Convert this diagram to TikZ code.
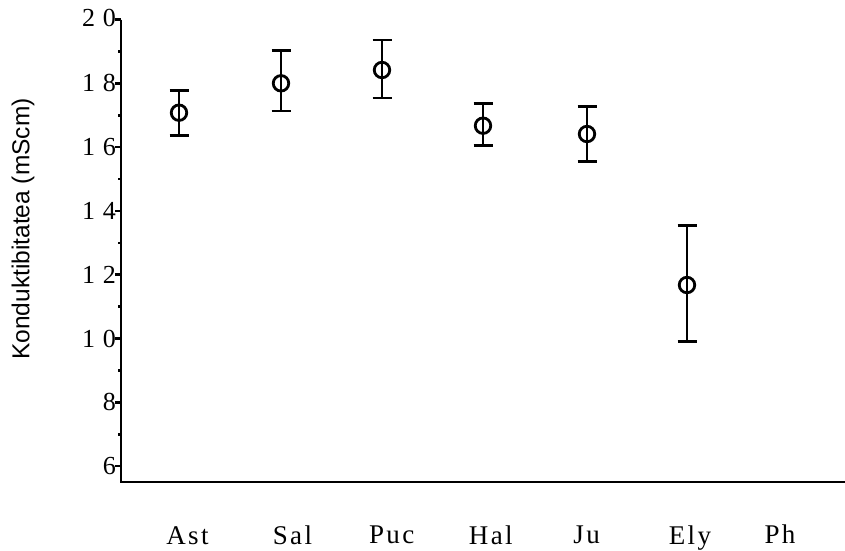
\documentclass[tikz,border=0pt]{standalone}
\usepackage{fontspec}
\setmainfont{Liberation Serif}
\newfontfamily\ticklblfont[LetterSpace=30]{Liberation Serif}
\newfontfamily\catfont[LetterSpace=9]{Liberation Serif}
\newfontfamily\titlefont{Liberation Sans}
\begin{document}
\begin{tikzpicture}[x=1pt,y=-1pt,
  axisline/.style={line width=2.8pt},
  ebar/.style={line width=2.8pt},
  ptmark/.style={circle,draw,line width=2.8pt,minimum size=15.5pt,inner sep=0pt},
  ticklbl/.style={anchor=east,inner sep=0pt,font=\fontsize{26}{26}\ticklblfont},
  catlbl/.style={anchor=base,inner sep=0pt,font=\fontsize{27}{27}\catfont},
  ytitle/.style={rotate=90,inner sep=0pt,font=\fontsize{24.5}{24.5}\titlefont}]
\useasboundingbox (0,0) rectangle (845,550);
% axes
\coordinate (ytop) at (121,19.5);
\coordinate (orig) at (121,482);
\coordinate (xend) at (845,482);
\draw[axisline] (ytop) -- (orig) -- (xend);
% y ticks
\foreach \v [count=\i] in {20,18,16,14,12,10,8,6}{
  \pgfmathsetmacro{\yy}{19.5+(20-\v)*31.9}
  \coordinate (tk\i) at (121,\yy);
  \draw[line width=2.6pt] (tk\i) -- ++(-6,0);
}
\foreach \v [count=\i] in {19,17,15,13,11,9,7}{
  \pgfmathsetmacro{\yy}{19.5+(20-\v)*31.9}
  \coordinate (mk\i) at (121,\yy);
  \draw[line width=2.6pt] (mk\i) -- ++(-3.5,0);
}
\node[ticklbl] (l20) at (116,18) {20};
\node[ticklbl] (l18) at (116,83.3) {18};
\node[ticklbl] (l16) at (116,147.1) {16};
\node[ticklbl] (l14) at (116,211) {14};
\node[ticklbl] (l12) at (116,274.8) {12};
\node[ticklbl] (l10) at (116,338.6) {10};
\node[ticklbl] (l8) at (116,402.4) {8};
\node[ticklbl] (l6) at (116,466.2) {6};
% y title
\node[ytitle] (yt) at (23,229) {Konduktibitatea (mScm)};
% categories
\node[catlbl] (cAst) at (187.5,544.5) {Ast};
\node[catlbl] (cSal) at (292.5,544.5) {Sal};
\node[catlbl] (cPuc) at (391.7,543.5) {Puc};
\node[catlbl] (cHal) at (490.8,544.5) {Hal};
\node[catlbl] (cJu) at (586.7,543.5) {Ju};
\node[catlbl] (cEly) at (690,544.5) {Ely};
\node[catlbl] (cPh) at (780,543.5) {Ph};
% data with error bars
\foreach \n/\x/\c/\t/\b in {a/179/112.7/90.3/135.3, s/281/83.3/50.7/111, p/382/70/40/98, h/483/125.7/103.3/145.7, j/587/134/106.7/161.7, e/687/285/225.5/341.7}{
  \coordinate (t\n) at (\x,\t);
  \coordinate (b\n) at (\x,\b);
  \draw[ebar] (t\n) -- (b\n);
  \draw[ebar] ([xshift=-9.5pt]t\n) -- ([xshift=9.5pt]t\n);
  \draw[ebar] ([xshift=-9.5pt]b\n) -- ([xshift=9.5pt]b\n);
  \node[ptmark] (m\n) at (\x,\c) {};
}
\end{tikzpicture}
\end{document}
